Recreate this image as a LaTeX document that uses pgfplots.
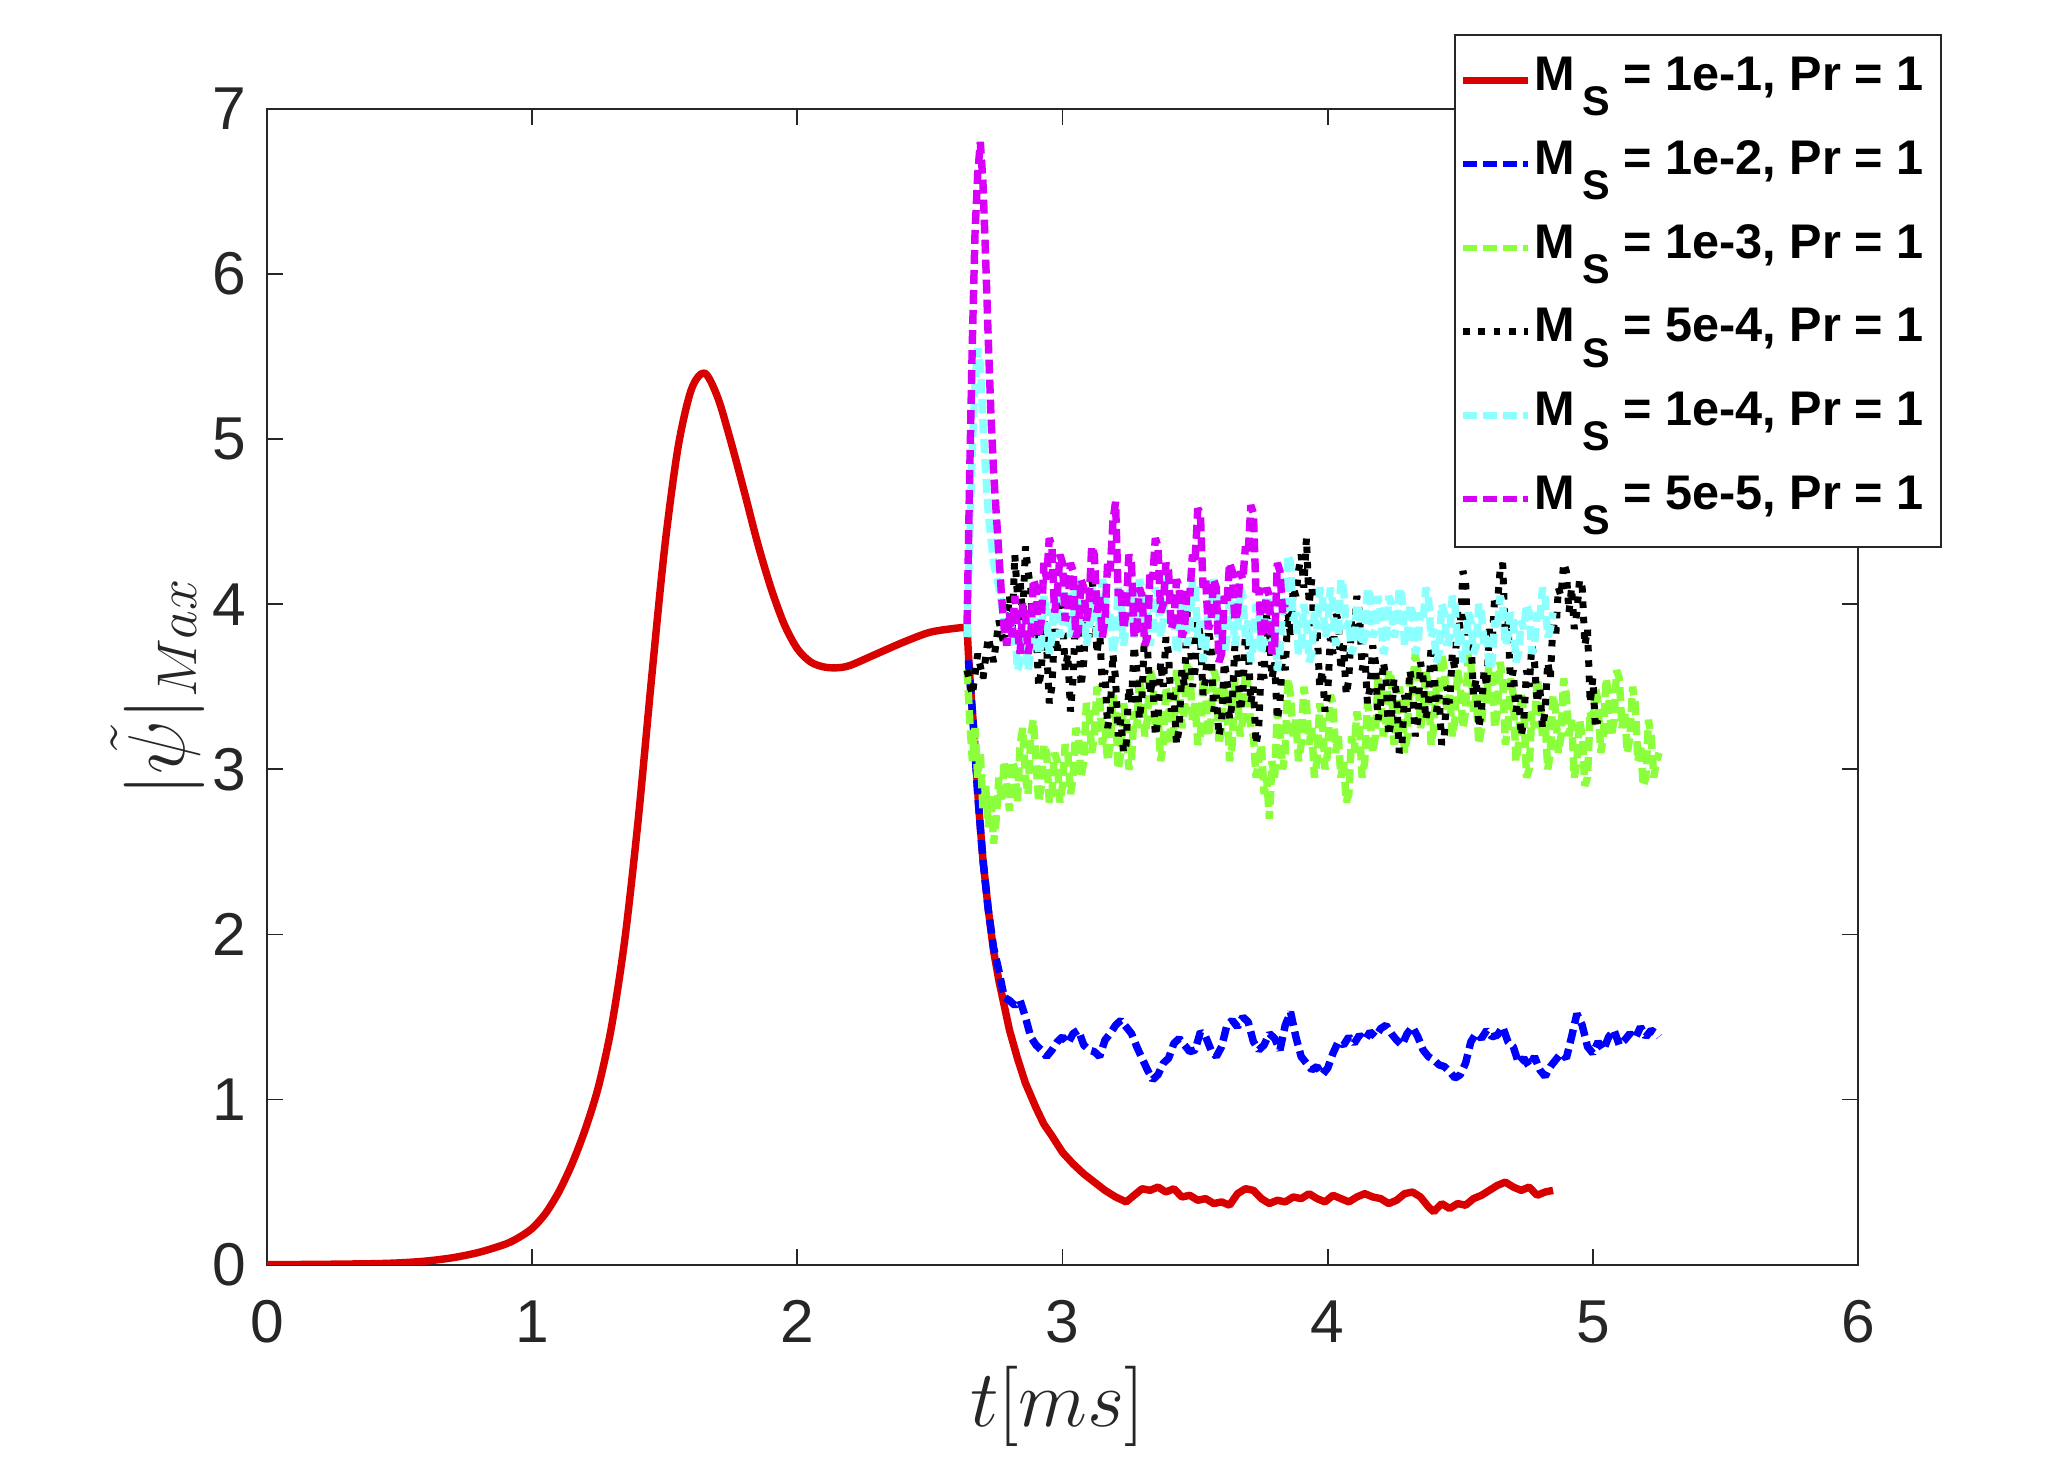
\documentclass[border=0pt]{standalone}
\usepackage{pgfplots}
\pgfplotsset{compat=1.18}
\usepackage{pgfplotstable}
\usepackage{fontspec}
\setmainfont{Liberation Sans}
\definecolor{cred}{RGB}{217,0,0}
\definecolor{cblue}{RGB}{0,0,255}
\definecolor{cgreen}{RGB}{140,255,60}
\definecolor{ccyan}{RGB}{140,255,255}
\definecolor{cmag}{RGB}{216,0,248}
\definecolor{axgray}{gray}{0.15}
\newcommand\Ms{M\hspace{1.6pt}\raisebox{-5.4pt}{\fontsize{8.9}{9}\selectfont S}}
\newcommand\Rp{\rule{2.8pt}{0pt}}

\pgfplotstableread{
t v
0 0
0.2 0.002
0.4 0.006
0.5 0.011
0.6 0.022
0.7 0.042
0.8 0.075
0.9 0.125
0.95 0.165
1.0 0.22
1.05 0.31
1.1 0.44
1.15 0.61
1.2 0.82
1.25 1.08
1.3 1.45
1.35 1.98
1.4 2.7
1.45 3.55
1.5 4.35
1.55 4.95
1.6 5.3
1.65 5.40
1.7 5.25
1.75 4.98
1.8 4.68
1.85 4.37
1.9 4.1
1.95 3.88
2.0 3.73
2.05 3.65
2.1 3.62
2.15 3.615
2.2 3.63
2.3 3.70
2.4 3.77
2.5 3.83
2.6 3.855
2.64 3.86
}\redA

\pgfplotstableread{
t v
2.64 3.86
2.645 3.70
2.655 3.45
2.665 3.25
2.675 3.0
2.685 2.75
2.70 2.45
2.72 2.15
2.74 1.90
2.76 1.72
2.78 1.57
2.80 1.42
2.83 1.25
2.86 1.10
2.90 0.95
2.93 0.85
2.96 0.78
3.00 0.68
3.04 0.61
3.08 0.55
3.12 0.50
3.16 0.45
3.20 0.41
3.24 0.38
3.27 0.42
3.30 0.46
3.33 0.45
3.36 0.47
3.39 0.44
3.42 0.46
3.45 0.41
3.48 0.42
3.51 0.39
3.54 0.40
3.57 0.37
3.60 0.38
3.63 0.36
3.66 0.43
3.69 0.46
3.72 0.45
3.75 0.40
3.78 0.37
3.81 0.39
3.84 0.38
3.87 0.41
3.90 0.40
3.93 0.43
3.96 0.40
3.99 0.38
4.02 0.42
4.05 0.40
4.08 0.38
4.11 0.41
4.14 0.43
4.17 0.41
4.20 0.40
4.23 0.37
4.26 0.39
4.29 0.43
4.32 0.44
4.35 0.41
4.38 0.35
4.40 0.32
4.43 0.37
4.46 0.34
4.49 0.37
4.52 0.36
4.55 0.40
4.58 0.42
4.61 0.45
4.64 0.48
4.67 0.50
4.70 0.47
4.73 0.45
4.76 0.47
4.79 0.42
4.82 0.44
4.85 0.45
}\redT

\pgfplotstableread{
t v
2.645 3.66
2.66 3.35
2.68 2.85
2.70 2.45
2.72 2.15
2.74 1.92
2.76 1.78
2.78 1.62
2.80 1.60
2.82 1.57
2.84 1.60
2.86 1.50
2.88 1.38
2.90 1.33
2.92 1.30
2.94 1.26
2.96 1.30
2.98 1.35
3.00 1.38
3.02 1.34
3.04 1.40
3.06 1.42
3.08 1.33
3.10 1.30
3.12 1.29
3.14 1.26
3.16 1.36
3.18 1.40
3.20 1.45
3.22 1.48
3.24 1.44
3.26 1.40
3.28 1.32
3.30 1.25
3.32 1.18
3.34 1.12
3.36 1.15
3.38 1.22
3.40 1.25
3.42 1.34
3.44 1.37
3.46 1.33
3.48 1.29
3.50 1.30
3.52 1.41
3.54 1.38
3.56 1.30
3.58 1.26
3.60 1.32
3.62 1.45
3.64 1.48
3.66 1.44
3.68 1.50
3.70 1.47
3.72 1.35
3.74 1.30
3.76 1.33
3.78 1.40
3.80 1.37
3.82 1.30
3.84 1.45
3.86 1.53
3.88 1.38
3.90 1.26
3.92 1.22
3.94 1.18
3.96 1.20
3.98 1.15
4.00 1.19
4.02 1.28
4.04 1.35
4.06 1.33
4.08 1.38
4.10 1.34
4.12 1.39
4.14 1.36
4.16 1.41
4.18 1.38
4.20 1.43
4.22 1.45
4.24 1.40
4.26 1.36
4.28 1.33
4.30 1.40
4.32 1.44
4.34 1.38
4.36 1.30
4.38 1.26
4.40 1.24
4.42 1.21
4.44 1.20
4.46 1.17
4.48 1.13
4.50 1.15
4.52 1.22
4.54 1.35
4.56 1.40
4.58 1.37
4.60 1.42
4.62 1.38
4.64 1.39
4.66 1.44
4.68 1.35
4.70 1.32
4.72 1.22
4.74 1.25
4.76 1.20
4.78 1.26
4.80 1.18
4.82 1.14
4.84 1.20
4.86 1.24
4.88 1.28
4.90 1.25
4.92 1.38
4.94 1.52
4.96 1.45
4.98 1.32
5.00 1.28
5.02 1.35
5.04 1.30
5.06 1.38
5.08 1.42
5.10 1.33
5.12 1.36
5.14 1.40
5.16 1.37
5.18 1.44
5.20 1.38
5.22 1.42
5.24 1.40
5.25 1.38
}\blueB

\pgfplotstableread{
t v
2.64 3.60
2.65 3.30
2.66 3.05
2.67 3.25
2.68 2.95
2.69 3.10
2.70 2.75
2.71 2.90
2.72 2.65
2.73 2.85
2.74 2.55
2.75 2.70
2.76 2.95
2.77 2.80
2.78 3.05
2.79 2.90
2.80 2.75
2.81 3.05
2.82 3.00
2.83 2.80
2.84 3.15
2.85 3.25
2.86 2.95
2.87 2.85
2.88 3.20
2.89 3.30
2.90 3.05
2.91 2.80
2.92 2.90
2.93 3.15
2.94 3.10
2.95 2.80
2.96 2.85
2.97 3.10
2.98 3.05
2.99 2.80
3.00 2.90
3.01 3.15
3.02 3.10
3.03 2.85
3.04 2.95
3.05 3.25
3.06 3.20
3.07 2.95
3.08 3.05
3.09 3.40
3.10 3.35
3.11 3.10
3.12 3.20
3.13 3.50
3.14 3.45
3.15 3.15
3.16 3.25
3.17 3.05
3.18 3.15
3.19 3.45
3.20 3.35
3.21 3.00
3.22 3.10
3.23 3.40
3.24 3.30
3.25 3.00
3.26 3.05
3.27 3.35
3.28 3.25
3.29 3.55
3.30 3.45
3.31 3.20
3.32 3.30
3.33 3.60
3.34 3.55
3.35 3.25
3.36 3.35
3.37 3.05
3.38 3.15
3.39 3.50
3.40 3.40
3.41 3.15
3.42 3.25
3.43 3.60
3.44 3.50
3.45 3.25
3.46 3.35
3.47 3.65
3.48 3.60
3.49 3.30
3.50 3.40
3.51 3.15
3.52 3.20
3.53 3.55
3.54 3.45
3.55 3.20
3.56 3.30
3.57 3.60
3.58 3.55
3.59 3.15
3.60 3.25
3.61 3.50
3.62 3.40
3.63 3.05
3.64 3.15
3.65 3.55
3.66 3.45
3.67 3.20
3.68 3.30
3.69 3.60
3.70 3.50
3.71 3.25
3.72 3.20
3.73 2.95
3.74 3.05
3.75 3.15
3.76 2.85
3.77 2.95
3.78 2.70
3.79 3.05
3.80 2.95
3.81 3.35
3.82 3.25
3.83 3.00
3.84 3.10
3.85 3.55
3.86 3.45
3.87 3.20
3.88 3.30
3.89 3.05
3.90 3.15
3.91 3.50
3.92 3.40
3.93 3.15
3.94 3.25
3.95 2.95
3.96 3.05
3.97 3.40
3.98 3.30
3.99 3.00
4.00 3.10
4.01 3.45
4.02 3.40
4.03 3.10
4.04 3.20
4.05 2.95
4.06 3.05
4.07 2.80
4.08 2.85
4.09 3.20
4.10 3.10
4.11 3.35
4.12 3.25
4.13 2.95
4.14 3.05
4.15 3.40
4.16 3.30
4.17 3.10
4.18 3.20
4.19 3.55
4.20 3.45
4.21 3.20
4.22 3.30
4.23 3.60
4.24 3.55
4.25 3.15
4.26 3.25
4.27 3.50
4.28 3.40
4.29 3.10
4.30 3.20
4.31 3.55
4.32 3.45
4.33 3.70
4.34 3.60
4.35 3.25
4.36 3.35
4.37 3.60
4.38 3.50
4.39 3.15
4.40 3.25
4.41 3.50
4.42 3.40
4.43 3.70
4.44 3.60
4.45 3.35
4.46 3.45
4.47 3.20
4.48 3.30
4.49 3.60
4.50 3.50
4.51 3.25
4.52 3.35
4.53 3.70
4.54 3.65
4.55 3.35
4.56 3.45
4.57 3.15
4.58 3.25
4.59 3.50
4.60 3.40
4.61 3.70
4.62 3.60
4.63 3.25
4.64 3.35
4.65 3.65
4.66 3.55
4.67 3.15
4.68 3.25
4.69 3.55
4.70 3.45
4.71 3.05
4.72 3.15
4.73 3.45
4.74 3.35
4.75 2.95
4.76 3.00
4.77 3.35
4.78 3.25
4.79 3.55
4.80 3.45
4.81 3.20
4.82 3.30
4.83 3.00
4.84 3.10
4.85 3.45
4.86 3.35
4.87 3.10
4.88 3.20
4.89 3.55
4.90 3.45
4.91 3.20
4.92 3.30
4.93 2.95
4.94 3.05
4.95 3.30
4.96 3.20
4.97 2.90
4.98 2.95
4.99 3.35
5.00 3.25
5.01 3.50
5.02 3.40
5.03 3.10
5.04 3.20
5.05 3.55
5.06 3.45
5.07 3.20
5.08 3.30
5.09 3.60
5.10 3.55
5.11 3.25
5.12 3.35
5.13 3.10
5.14 3.20
5.15 3.50
5.16 3.40
5.17 3.05
5.18 3.15
5.19 2.90
5.20 2.95
5.21 3.30
5.22 3.20
5.23 2.95
5.24 3.05
5.25 3.10
}\greenC

\pgfplotstableread{
t v
2.64 3.60
2.66 3.45
2.68 3.70
2.70 3.55
2.72 3.80
2.74 3.65
2.76 3.90
2.78 3.75
2.80 4.05
2.81 3.85
2.82 4.30
2.83 4.05
2.84 4.15
2.85 3.90
2.86 4.35
2.87 4.20
2.88 4.10
2.89 3.75
2.90 3.85
2.91 3.50
2.92 3.60
2.93 3.90
2.94 3.75
2.95 3.40
2.96 3.50
2.97 3.85
2.98 3.70
2.99 4.05
3.00 3.95
3.01 3.60
3.02 3.70
3.03 3.35
3.04 3.55
3.05 4.00
3.06 3.90
3.07 3.50
3.08 3.65
3.09 3.95
3.10 3.80
3.11 4.15
3.12 4.05
3.13 3.70
3.14 3.85
3.15 3.50
3.16 3.60
3.17 3.25
3.18 3.35
3.19 3.70
3.20 3.55
3.21 3.20
3.22 3.30
3.23 3.10
3.24 3.15
3.25 3.50
3.26 3.40
3.27 3.75
3.28 3.60
3.29 3.30
3.30 3.45
3.31 3.85
3.32 3.75
3.33 3.45
3.34 3.55
3.35 3.20
3.36 3.30
3.37 3.65
3.38 3.50
3.39 3.80
3.40 3.70
3.41 3.35
3.42 3.45
3.43 3.15
3.44 3.25
3.45 3.60
3.46 3.50
3.47 3.95
3.48 3.85
3.49 3.50
3.50 3.60
3.51 3.90
3.52 3.80
3.53 3.45
3.54 3.55
3.55 3.85
3.56 3.75
3.57 3.35
3.58 3.45
3.59 3.20
3.60 3.30
3.61 3.65
3.62 3.55
3.63 3.30
3.64 3.40
3.65 3.75
3.66 3.65
3.67 3.35
3.68 3.45
3.69 3.85
3.70 3.75
3.71 3.40
3.72 3.50
3.73 3.15
3.74 3.25
3.75 3.65
3.76 3.55
3.77 3.95
3.78 3.85
3.79 3.55
3.80 3.65
3.81 3.30
3.82 3.40
3.83 3.70
3.84 3.60
3.85 3.95
3.86 3.80
3.87 4.10
3.88 4.05
3.89 4.20
3.90 4.30
3.91 4.10
3.92 4.40
3.93 4.00
3.94 4.15
3.95 3.75
3.96 3.85
3.97 3.50
3.98 3.60
3.99 3.35
4.00 3.45
4.01 3.80
4.02 3.70
4.03 3.95
4.04 3.90
4.05 3.60
4.06 3.75
4.07 3.45
4.08 3.55
4.09 3.90
4.10 3.80
4.11 4.05
4.12 3.95
4.13 3.60
4.14 3.70
4.15 3.40
4.16 3.50
4.17 3.75
4.18 3.65
4.19 3.30
4.20 3.40
4.21 3.65
4.22 3.55
4.23 3.20
4.24 3.30
4.25 3.55
4.26 3.45
4.27 3.10
4.28 3.15
4.29 3.45
4.30 3.35
4.31 3.60
4.32 3.50
4.33 3.20
4.34 3.30
4.35 3.65
4.36 3.55
4.37 3.30
4.38 3.40
4.39 3.75
4.40 3.65
4.41 3.35
4.42 3.45
4.43 3.15
4.44 3.20
4.45 3.50
4.46 3.40
4.47 3.70
4.48 3.60
4.49 3.95
4.50 3.85
4.51 4.20
4.52 4.15
4.53 3.70
4.54 3.80
4.55 3.45
4.56 3.55
4.57 3.25
4.58 3.35
4.59 3.60
4.60 3.50
4.61 3.85
4.62 3.75
4.63 4.05
4.64 4.00
4.65 4.20
4.66 4.25
4.67 3.80
4.68 3.90
4.69 3.50
4.70 3.60
4.71 3.35
4.72 3.45
4.73 3.20
4.74 3.30
4.75 3.60
4.76 3.50
4.77 3.75
4.78 3.65
4.79 3.40
4.80 3.50
4.81 3.25
4.82 3.35
4.83 3.65
4.84 3.55
4.85 3.90
4.86 3.80
4.87 4.10
4.88 4.05
4.89 4.25
4.90 4.20
4.91 3.95
4.92 4.10
4.93 3.85
4.94 3.95
4.95 4.15
4.96 4.10
4.97 3.75
4.98 3.85
4.99 3.40
5.00 3.55
5.01 3.25
5.02 3.30
}\blackD

\pgfplotstableread{
t v
2.64 3.80
2.65 4.40
2.66 4.95
2.67 5.35
2.68 5.55
2.69 5.45
2.70 5.10
2.71 4.80
2.72 4.55
2.73 4.40
2.74 4.25
2.76 4.10
2.78 3.90
2.80 3.75
2.81 3.95
2.82 3.85
2.83 3.60
2.84 3.65
2.85 3.90
2.86 3.80
2.87 3.60
2.88 3.70
2.89 4.00
2.90 3.90
2.91 3.70
2.92 3.75
2.93 4.05
2.94 3.95
2.95 3.70
2.96 3.80
2.97 4.10
2.98 4.00
2.99 3.80
3.00 3.85
3.01 4.15
3.02 4.05
3.03 3.80
3.04 3.90
3.05 4.15
3.06 4.10
3.07 3.85
3.08 3.95
3.09 3.75
3.10 3.85
3.11 4.10
3.12 4.05
3.13 3.80
3.14 3.90
3.15 4.15
3.16 4.10
3.17 3.85
3.18 3.95
3.19 3.70
3.20 3.80
3.21 4.10
3.22 4.00
3.23 3.75
3.24 3.85
3.25 4.10
3.26 4.05
3.27 3.80
3.28 3.90
3.29 4.15
3.30 4.10
3.31 3.85
3.32 3.95
3.33 3.75
3.34 3.85
3.35 4.10
3.36 4.05
3.37 3.80
3.38 3.90
3.39 4.20
3.40 4.15
3.41 3.85
3.42 3.95
3.43 3.70
3.44 3.80
3.45 4.05
3.46 4.00
3.47 3.75
3.48 3.85
3.49 4.15
3.50 4.10
3.51 3.80
3.52 3.90
3.53 3.65
3.54 3.75
3.55 4.00
3.56 3.95
3.57 4.15
3.58 4.10
3.59 3.80
3.60 3.90
3.61 3.70
3.62 3.80
3.63 4.05
3.64 4.00
3.65 3.75
3.66 3.85
3.67 4.10
3.68 4.05
3.69 3.80
3.70 3.90
3.71 3.65
3.72 3.75
3.73 4.00
3.74 3.95
3.75 3.70
3.76 3.80
3.77 4.05
3.78 4.00
3.79 3.75
3.80 3.85
3.81 3.60
3.82 3.70
3.83 4.00
3.84 3.95
3.85 4.30
3.86 4.25
3.87 3.90
3.88 3.95
3.89 3.70
3.90 3.75
3.91 4.00
3.92 3.90
3.93 3.65
3.94 3.70
3.95 3.95
3.96 3.85
3.97 4.10
3.98 4.05
3.99 3.80
4.00 3.85
4.01 4.10
4.02 4.00
4.03 3.75
4.04 3.80
4.05 4.15
4.06 4.10
4.07 3.85
4.08 3.90
4.09 3.70
4.10 3.75
4.11 4.00
4.12 3.95
4.13 3.75
4.14 3.80
4.15 4.10
4.16 4.05
4.17 3.80
4.18 3.85
4.19 4.05
4.20 3.95
4.21 3.70
4.22 3.75
4.23 4.05
4.24 4.00
4.25 3.80
4.26 3.85
4.27 4.10
4.28 4.05
4.29 3.75
4.30 3.80
4.31 4.00
4.32 3.95
4.33 3.70
4.34 3.75
4.35 3.95
4.36 3.90
4.37 4.10
4.38 4.05
4.39 3.80
4.40 3.85
4.41 3.65
4.42 3.70
4.43 4.00
4.44 3.95
4.45 3.75
4.46 3.80
4.47 4.05
4.48 4.00
4.49 3.75
4.50 3.85
4.51 3.65
4.52 3.70
4.53 3.95
4.54 3.90
4.55 3.70
4.56 3.75
4.57 4.00
4.58 3.95
4.59 3.75
4.60 3.80
4.61 3.60
4.62 3.65
4.63 3.90
4.64 3.85
4.65 4.05
4.66 4.00
4.67 3.75
4.68 3.80
4.69 3.95
4.70 3.90
4.71 3.65
4.72 3.70
4.73 3.90
4.74 3.85
4.75 4.00
4.76 3.95
4.77 3.70
4.78 3.75
4.79 3.95
4.80 3.90
4.81 4.10
4.82 4.05
4.83 3.80
4.84 3.85
4.85 3.95
}\cyanE

\pgfplotstableread{
t v
2.64 3.88
2.65 4.80
2.66 5.60
2.67 6.25
2.68 6.60
2.69 6.80
2.70 6.55
2.71 6.10
2.72 5.60
2.73 5.15
2.74 4.80
2.75 4.55
2.76 4.30
2.77 4.05
2.78 3.85
2.79 3.75
2.80 3.95
2.81 3.80
2.82 4.05
2.83 3.85
2.84 3.70
2.85 4.00
2.86 3.95
2.87 3.70
2.88 3.80
2.89 4.15
2.90 4.10
2.91 3.80
2.92 3.90
2.93 4.25
2.94 4.15
2.95 4.40
2.96 4.35
2.97 3.95
2.98 4.05
2.99 4.30
3.00 4.25
3.01 3.90
3.02 3.95
3.03 4.25
3.04 4.20
3.05 3.80
3.06 3.85
3.07 4.15
3.08 4.10
3.09 3.90
3.10 4.00
3.11 4.35
3.12 4.30
3.13 3.95
3.14 4.05
3.15 3.80
3.16 3.90
3.17 4.25
3.18 4.20
3.19 4.50
3.20 4.62
3.21 4.05
3.22 4.10
3.23 3.85
3.24 3.95
3.25 4.30
3.26 4.25
3.27 3.80
3.28 3.85
3.29 4.10
3.30 4.05
3.31 3.75
3.32 3.80
3.33 4.20
3.34 4.15
3.35 4.40
3.36 4.35
3.37 3.95
3.38 4.00
3.39 4.25
3.40 4.20
3.41 3.85
3.42 3.90
3.43 4.15
3.44 4.10
3.45 3.80
3.46 3.85
3.47 4.10
3.48 4.05
3.49 4.30
3.50 4.25
3.51 4.58
3.52 4.55
3.53 4.10
3.54 4.15
3.55 3.85
3.56 3.90
3.57 4.15
3.58 4.10
3.59 3.65
3.60 3.70
3.61 4.05
3.62 4.00
3.63 4.25
3.64 4.20
3.65 3.90
3.66 3.95
3.67 4.20
3.68 4.15
3.69 4.35
3.70 4.30
3.71 4.60
3.72 4.55
3.73 4.05
3.74 4.10
3.75 3.80
3.76 3.85
3.77 4.10
3.78 4.05
3.79 3.70
3.80 3.75
3.81 4.25
3.82 4.20
3.83 3.95
3.84 4.00
}\magF

\begin{document}
\begin{tikzpicture}
\begin{axis}[
  scale only axis,
  width=341.9pt, height=248.4pt,
  xmin=0, xmax=6, ymin=0, ymax=7,
  xtick={0,1,2,3,4,5,6}, ytick={0,1,2,3,4,5,6,7},
  axis line style={axgray, line width=0.4pt},
  tick style={axgray, line width=0.4pt},
  major tick length=3.4pt,
  tick align=inside,
  /pgf/number format/assume math mode=true,
  tick label style={font=\fontsize{13}{15}\selectfont, text=axgray, inner sep=0pt},
  xticklabel style={yshift=-7.5pt},
  yticklabel style={xshift=-4.3pt},
  xlabel={$t[ms]$},
  ylabel={$|\tilde{\psi}|_{Max}$},
  label style={font=\fontsize{17.8}{20}\selectfont, text=axgray},
  xlabel style={at={(axis description cs:0.497,-0.140)}, anchor=base},
  ylabel style={at={(axis description cs:-0.069,0.5)}, anchor=center, rotate=0},
  every axis plot/.append style={line join=bevel},
  legend cell align=left,
  legend style={
    at={(axis description cs:1.0528,1.0649)}, anchor=north east,
    draw=axgray, line width=0.4pt, fill=white,
    font=\fontsize{10.45}{12}\selectfont\bfseries,
    nodes={inner sep=0pt, text height=9.5pt, text depth=5.6pt},
    row sep=2.9pt, column sep=0.65pt,
    inner xsep=0.95pt, inner ysep=2.5pt,
  },
  legend image code/.code={\draw[#1, line width=1.4pt] (0pt,0.25pt) -- (14pt,0.25pt);},
]
\addplot[cred, line width=1.6pt, smooth] table[x=t,y=v] {\redA};
\addlegendentry{\Ms{} = 1e-1, Pr = 1\Rp}
\addplot[cred, line width=1.6pt, forget plot] table[x=t,y=v] {\redT};
\addplot[cblue, line width=1.6pt, dash pattern=on 3pt off 1.3pt] table[x=t,y=v] {\blueB};
\addlegendentry{\Ms{} = 1e-2, Pr = 1\Rp}
\addplot[cgreen, line width=1.6pt, dash pattern=on 3pt off 1.3pt] table[x=t,y=v] {\greenC};
\addlegendentry{\Ms{} = 1e-3, Pr = 1\Rp}
\addplot[black, line width=1.5pt, dash pattern=on 1.4pt off 1.9pt] table[x=t,y=v] {\blackD};
\addlegendentry{\Ms{} = 5e-4, Pr = 1\Rp}
\addplot[ccyan, line width=1.6pt, dash pattern=on 3pt off 1.3pt] table[x=t,y=v] {\cyanE};
\addlegendentry{\Ms{} = 1e-4, Pr = 1\Rp}
\addplot[cmag, line width=1.6pt, dash pattern=on 3pt off 1.3pt] table[x=t,y=v] {\magF};
\addlegendentry{\Ms{} = 5e-5, Pr = 1\Rp}
\end{axis}
\pgfresetboundingbox
\path ([shift={(-57.4pt,-41.5pt)}]current axis.south west) rectangle ([shift={(41.7pt,23.4pt)}]current axis.north east);
\end{tikzpicture}
\end{document}
